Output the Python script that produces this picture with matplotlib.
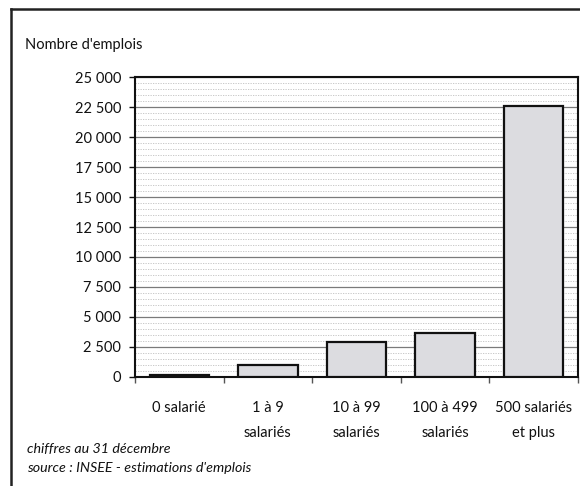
import matplotlib.pyplot as plt
from matplotlib.lines import Line2D
from matplotlib.ticker import FuncFormatter, MultipleLocator

# Emplois par taille d'établissement
categories = ['0 salarié', '1 à 9\nsalariés', '10 à 99\nsalariés',
              '100 à 499\nsalariés', '500 salariés\net plus']
emplois = [150, 1000, 2950, 3650, 22550]
y_ticks = [0, 2500, 5000, 7500, 10000, 12500, 15000, 17500, 20000, 22500, 25000]

plt.rcParams['font.family'] = ['Lato', 'DejaVu Sans']

fig = plt.figure(figsize=(5.8, 4.86), dpi=100)
fig.patch.set_facecolor('white')

ax = fig.add_axes([135 / 580, 1 - 377 / 486, 443 / 580, 300 / 486])

x = range(len(categories))
ax.bar(x, emplois, width=0.67, color='#dcdce0', edgecolor='#111111',
       linewidth=1.6, zorder=3)

ax.set_xlim(-0.5, len(categories) - 0.5)
ax.set_ylim(0, 25000)
ax.set_yticks(y_ticks)
ax.yaxis.set_major_formatter(FuncFormatter(lambda v, p: f'{int(v):,}'.replace(',', ' ')))
ax.yaxis.set_minor_locator(MultipleLocator(500))

# grille : traits pleins tous les 2 500, pointillés tous les 500
ax.grid(axis='y', which='major', color='#7a7a7a', linewidth=0.9, zorder=1)
ax.grid(axis='y', which='minor', color='#c0c0c0', linewidth=0.6,
        linestyle=(0, (1.5, 1.5)), zorder=0)
ax.tick_params(axis='y', which='minor', length=0)
ax.tick_params(axis='y', which='major', length=4, width=1, labelsize=10.5,
               pad=6, colors='#111111')

# étiquettes centrées, petits traits aux limites des classes
ax.set_xticks([i - 0.5 for i in range(len(categories) + 1)])
ax.set_xticklabels([])
ax.set_xticks(list(x), minor=True)
ax.set_xticklabels(categories, minor=True, fontsize=10.5, linespacing=2.0,
                   color='#111111')
ax.tick_params(axis='x', which='major', length=4, width=1, color='#555555')
ax.tick_params(axis='x', which='minor', length=0, pad=17)

for side in ['left', 'bottom', 'top', 'right']:
    ax.spines[side].set_linewidth(1.5)
    ax.spines[side].set_color('#111111')

fig.text(25 / 580, 1 - 45 / 486, "Nombre d'emplois", fontsize=10.5,
         va='center', ha='left', color='#111111')
fig.text(27 / 580, 1 - 449 / 486, 'chiffres au 31 décembre', fontsize=10.3,
         style='italic', va='center', ha='left', color='#111111')
fig.text(27 / 580, 1 - 468 / 486, "source : INSEE - estimations d'emplois",
         fontsize=10.3, style='italic', va='center', ha='left', color='#111111')

# cadre extérieur
fig.add_artist(Line2D([11 / 580, 11 / 580], [0, 1 - 9 / 486],
                      transform=fig.transFigure, color='#222222', linewidth=1.8))
fig.add_artist(Line2D([11 / 580, 1], [1 - 9 / 486, 1 - 9 / 486],
                      transform=fig.transFigure, color='#222222', linewidth=1.8))

fig.savefig('out.png', dpi=100)
